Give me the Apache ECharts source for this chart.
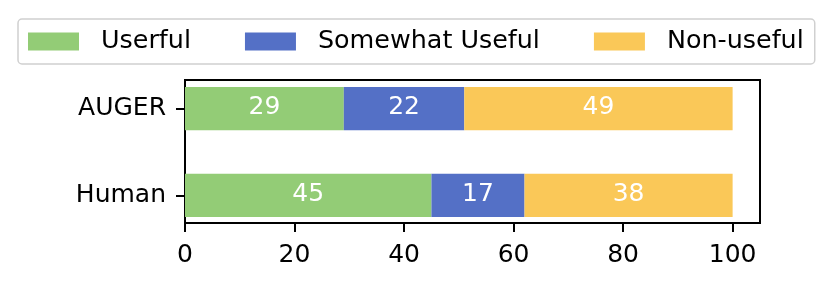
<!DOCTYPE html>
<html><head><meta charset="utf-8">
<script src="https://cdn.jsdelivr.net/npm/echarts@6/dist/echarts.min.js"></script>
<style>html,body{margin:0;padding:0;background:#fff}#c{width:831px;height:285px}</style>
</head><body><div id="c"></div>
<script>
const categories = ['AUGER', 'Human'];
const seriesNames = ['Userful', 'Somewhat Useful', 'Non-useful'];
const useful = [29, 45];
const somewhat = [22, 17];
const nonUseful = [49, 38];
const xTicks = [0, 20, 40, 60, 80, 100];
const colors = ['#93cc76', '#5470c6', '#fac858'];

const FONT = 'DejaVu Sans';
const chart = echarts.init(document.getElementById('c'), null, {renderer: 'canvas'});
const values = [useful, somewhat, nonUseful];
const option = {
  animation: false,
  color: colors,
  textStyle: {fontFamily: FONT},
  legend: {
    left: 18, top: 19,
    padding: [10, 11, 10, 10],
    itemWidth: 51, itemHeight: 18, itemGap: 54,
    borderColor: '#d0d0d0', borderWidth: 1.5, borderRadius: 4,
    textStyle: {fontFamily: FONT, fontSize: 25.4, color: '#000', padding: [0, 0, 0, 17]},
    data: seriesNames.map(n => ({name: n, icon: 'rect'}))
  },
  grid: [
    {left: 185, right: 71, top: 65.4, bottom: 46.4, show: false},
    {left: 185, right: 71, top: 80, bottom: 62, show: true, borderColor: '#000', borderWidth: 2, backgroundColor: 'transparent'}
  ],
  xAxis: [
    {gridIndex: 0, type: 'value', min: 0, max: 105, show: false},
    {gridIndex: 1, type: 'value', min: 0, max: 105,
      axisLine: {show: false}, splitLine: {show: false},
      axisTick: {show: true, length: 9, lineStyle: {color: '#000', width: 2}, customValues: xTicks},
      axisLabel: {fontFamily: FONT, fontSize: 25, color: '#000', margin: 20, customValues: xTicks}}
  ],
  yAxis: [
    {gridIndex: 0, type: 'category', data: categories, inverse: true,
      axisLine: {show: false},
      axisTick: {show: true, alignWithLabel: true, length: 9, lineStyle: {color: '#000', width: 2}},
      axisLabel: {fontFamily: FONT, fontSize: 25, color: '#000', margin: 19}},
    {gridIndex: 1, type: 'value', min: 0, max: 1, show: false}
  ],
  series: seriesNames.map((n, i) => ({
    name: n, type: 'bar', stack: 'total', xAxisIndex: 0, yAxisIndex: 0,
    barWidth: '50%',
    data: values[i],
    itemStyle: {color: colors[i]},
    label: {show: true, position: 'inside', color: '#fff', fontFamily: FONT, fontSize: 25, offset: [0, -1]}
  }))
};
chart.setOption(option);
</script></body></html>
